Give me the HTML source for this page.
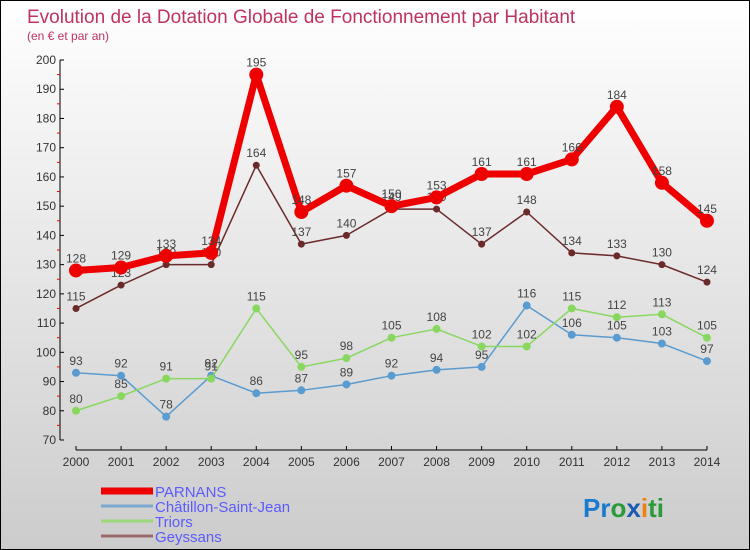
<!DOCTYPE html>
<html><head><meta charset="utf-8"><style>
body{margin:0}
#c{width:748px;height:548px;border:1px solid #000;background:linear-gradient(#fff,#ccc);position:relative;overflow:hidden;font-family:"Liberation Sans",sans-serif}
</style></head><body>
<div id="c">
<svg id="s" width="748" height="548">
<text x="26" y="22" font-size="19" fill="#c0335f">Evolution de la Dotation Globale de Fonctionnement par Habitant</text>
<text x="26" y="39" font-size="12" fill="#c0335f">(en € et par an)</text>
</svg></div>
<script>
const years=[2000,2001,2002,2003,2004,2005,2006,2007,2008,2009,2010,2011,2012,2013,2014];
const parnans=[128,129,133,134,195,148,157,150,153,161,161,166,184,158,145];
const chatillon=[93,92,78,92,86,87,89,92,94,95,116,106,105,103,97];
const triors=[80,85,91,91,115,95,98,105,108,102,102,115,112,113,105];
const geyssans=[115,123,130,130,164,137,140,149,149,137,148,134,133,130,124];
const yTicks=[70,80,90,100,110,120,130,140,150,160,170,180,190,200];
const s=document.getElementById('s');const NS='http://www.w3.org/2000/svg';
function X(i){return 75+i*45.07;}
function Y(v){return 439-(v-70)*2.923;}
function mk(t,a,p){const e=document.createElementNS(NS,t);for(const k in a)e.setAttribute(k,a[k]);(p||s).appendChild(e);return e;}
// axes
let ax=mk('line',{x1:59,y1:Y(200),x2:59,y2:Y(70),stroke:'#000'});


let xa=mk('line',{x1:75,y1:449,x2:X(14),y2:449,stroke:'#000'});


yTicks.forEach(v=>{mk('line',{x1:59,y1:Y(v),x2:63,y2:Y(v),stroke:'#000'});
 if(v<200)mk('line',{x1:56,y1:Y(v+5),x2:59,y2:Y(v+5),stroke:'#e00'});
 const t=mk('text',{x:55,y:Y(v)+4,'font-size':12,'text-anchor':'end',fill:'#333'});t.textContent=v;
 
 });
years.forEach((y,i)=>{mk('line',{x1:X(i),y1:445,x2:X(i),y2:449,stroke:'#000'});
 const t=mk('text',{x:X(i),y:465,'font-size':12,'text-anchor':'middle',fill:'#333'});t.textContent=y;
 
 });
function series(d,col,w,r,name,fill){
 const g=mk('g',{});
 
 
 mk('polyline',{points:d.map((v,i)=>X(i)+','+Y(v)).join(' '),fill:'none',stroke:col,'stroke-width':w,'stroke-linejoin':'round'},g);
 d.forEach((v,i)=>{const c=mk('circle',{cx:X(i),cy:Y(v),r:r,fill:fill,stroke:col,'stroke-width':1},g);
  
  
  const t=mk('text',{x:X(i),y:Y(v)-8,'font-size':12,'text-anchor':'middle',fill:'#444'},g);t.textContent=v;});
}
series(chatillon,'#5a9bd0',1.5,3.5,'chatillon-series','#5a9bd0');
series(triors,'#88d860',1.5,3.5,'triors-series','#88d860');
series(geyssans,'#6b2a2a',1.5,3,'geyssans-series','#6b2a2a');
series(parnans,'#ee0000',7,6.5,'parnans-series','#ee0000');
// legend
const leg=[['PARNANS','#ee0000',7],['Châtillon-Saint-Jean','#7aa8d0',3],['Triors','#9ad878',3],['Geyssans','#9a6a6a',3]];
leg.forEach((l,i)=>{const y=492+i*15;
 const g=mk('g',{});
 
 
 mk('line',{x1:100,y1:y-2,x2:152,y2:y-2,stroke:l[1],'stroke-width':l[2]},g);
 const t=mk('text',{x:154,y:y+4,'font-size':15,fill:'#5b5bff'},g);t.textContent=l[0];});
const lg=mk('text',{x:582,y:516,'font-size':26,'font-weight':'bold'});


[['Pr','#1a7ad0'],['o','#2a9a3a'],['x','#1a5ab0'],['i','#f08010'],['ti','#2a9a3a']].forEach(p=>{const ts=mk('tspan',{fill:p[1]},lg);ts.textContent=p[0];});
</script>
</body></html>
